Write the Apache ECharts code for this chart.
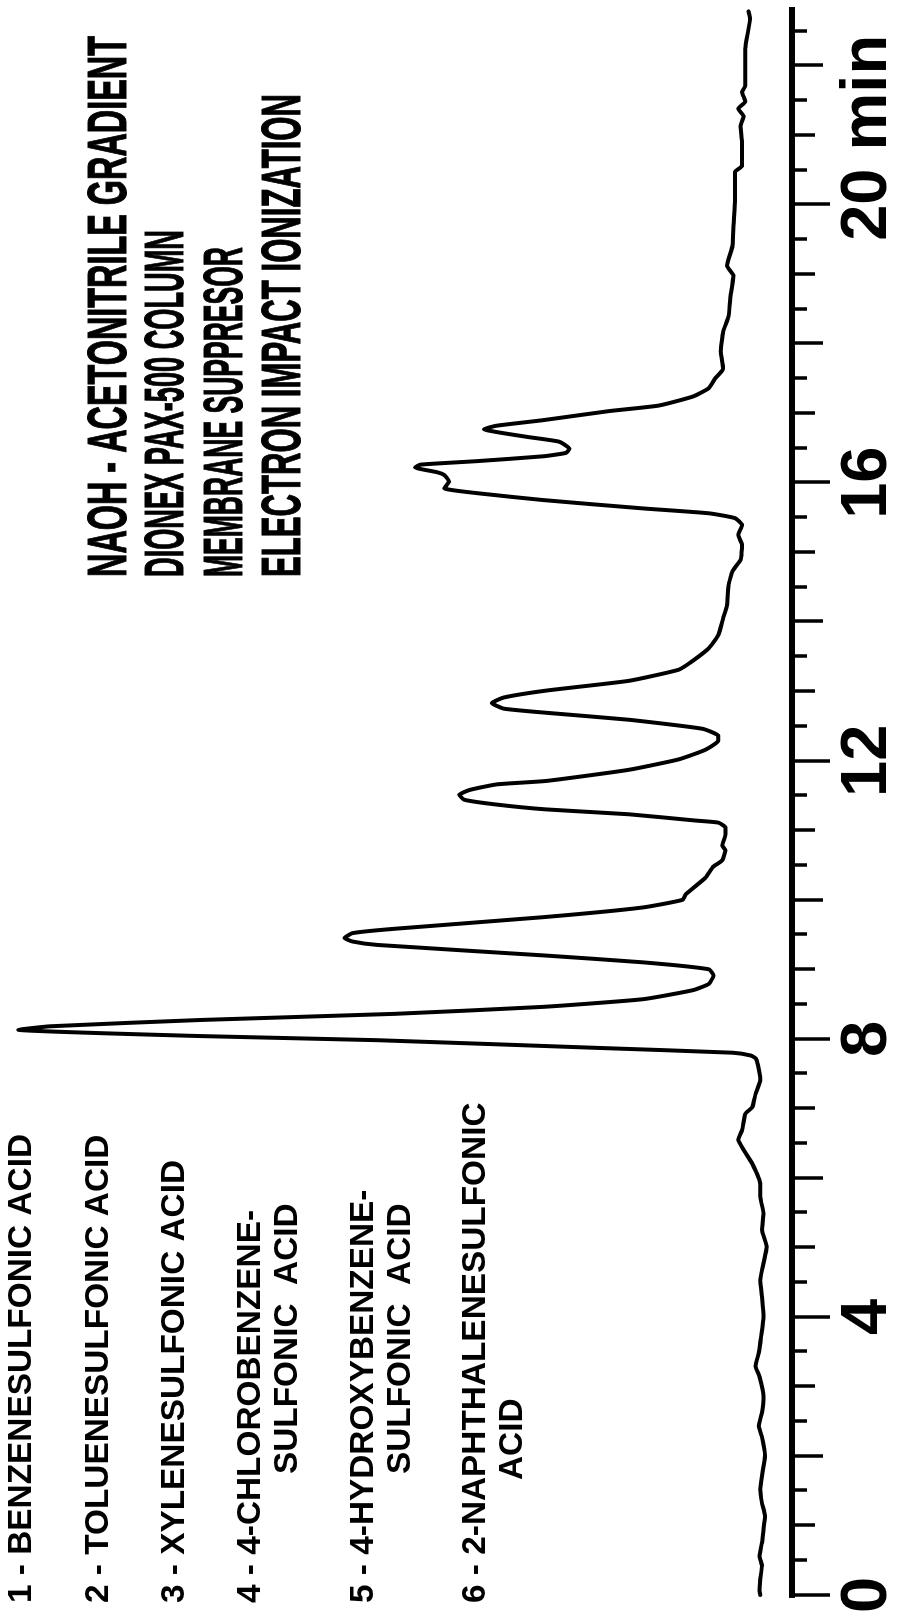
<!DOCTYPE html>
<html>
<head>
<meta charset="utf-8">
<script src="https://cdn.jsdelivr.net/npm/echarts@6/dist/echarts.min.js"></script>
<style>
  html, body { margin: 0; padding: 0; width: 901px; height: 1616px; overflow: hidden; background: #fff; }
  /* The chromatogram is laid out with time running left-to-right and then
     turned a quarter turn counter-clockwise, so time reads bottom-to-top. */
  #chart {
    position: absolute; left: 0; top: 0;
    width: 1616px; height: 901px;
    transform-origin: 0 0;
    transform: translateY(1616px) rotate(-90deg);
    background: #fff;
  }
</style>
</head>
<body>
<div id="chart"></div>
<script>
// ---- data -------------------------------------------------------------
// retention time (min)
const timeMin = [
  0.00, 0.06, 0.23, 0.42, 0.56, 0.75, 0.94, 1.13, 1.33, 1.52, 1.71, 2.00,
  2.28, 2.43, 2.62, 2.86, 3.14, 3.29, 3.48, 3.72, 4.01, 4.29, 4.53, 4.77,
  5.01, 5.25, 5.49, 5.73, 5.91, 6.20, 6.40, 6.55, 6.69, 6.92, 7.02, 7.21,
  7.41, 7.62, 7.72, 7.76,
  7.80, 7.87, 7.98, 8.04, 8.13,
  8.18, 8.27, 8.36, 8.46, 8.57, 8.70, 8.79, 8.91,
  9.00, 9.10, 9.20, 9.35, 9.40, 9.45,
  9.52, 9.58, 9.75, 9.89, 10.00, 10.08, 10.32, 10.47, 10.57, 10.71, 10.78,
  10.94, 11.04, 11.11,
  11.14, 11.23, 11.30, 11.37, 11.44, 11.51,
  11.58, 11.66, 11.71, 11.87, 12.02, 12.16, 12.29, 12.36,
  12.46, 12.59, 12.69, 12.75, 12.83,
  12.91, 13.01, 13.15, 13.31, 13.44, 13.62, 13.81, 14.05, 14.24, 14.53,
  14.73, 14.89, 15.10, 15.25, 15.39, 15.49,
  15.56, 15.63, 15.75, 15.85, 15.92, 16.02, 16.11, 16.15, 16.22,
  16.26, 16.31, 16.38, 16.43, 16.49,
  16.59, 16.66, 16.77,
  16.82, 16.90, 17.03, 17.11, 17.24, 17.36, 17.50, 17.64, 17.89, 18.17,
  18.40, 18.65, 18.98, 19.12, 19.41, 19.70, 20.08, 20.47, 20.56, 20.90,
  21.13, 21.27, 21.38, 21.48, 21.62, 21.71, 22.24, 22.67, 22.78
];
// detector response (relative units)
const signal = [
  4.0, 4.1, 4.0, 3.8, 4.1, 3.8, 3.6, 3.4, 3.8, 4.0, 3.8, 3.4,
  3.8, 4.2, 3.8, 3.6, 4.1, 4.6, 4.2, 3.9, 3.6, 3.8, 4.0, 3.6,
  3.2, 3.8, 3.6, 4.0, 4.0, 5.0, 6.1, 6.8, 6.3, 5.9, 5.0, 4.6,
  4.0, 4.3, 4.6, 5.2,
  7.5, 24.7, 52.3, 74.9, 97.7,
  93.7, 74.9, 50.0, 31.4, 18.8, 12.5, 10.5, 9.9,
  10.5, 18.8, 31.4, 52.3, 55.5, 56.5,
  55.5, 50.5, 31.4, 18.8, 13.8, 13.4, 10.9, 10.0, 8.8, 8.4, 8.8,
  8.4, 8.4, 9.3,
  12.2, 20.6, 31.0, 37.3, 41.4, 42.0,
  40.7, 37.3, 31.0, 20.6, 14.3, 10.9, 9.3, 9.3,
  11.3, 20.6, 31.0, 36.4, 37.9,
  36.4, 31.0, 20.6, 14.3, 12.5, 10.5, 9.3, 8.7, 8.2, 8.0,
  7.5, 6.5, 6.3, 6.8, 6.3, 7.2,
  10.5, 18.8, 31.4, 39.8, 43.9, 43.3, 43.9, 44.8, 47.6,
  46.9, 39.8, 31.4, 28.5, 28.1,
  29.4, 33.5, 38.9,
  37.3, 31.4, 23.1, 16.8, 12.5, 10.5, 9.7, 8.7, 9.0, 8.7,
  8.0, 7.8, 7.4, 8.2, 7.5, 7.4, 7.2, 7.2, 6.3, 6.3,
  6.5, 6.1, 6.8, 5.9, 6.3, 5.9, 5.9, 5.3, 5.5
];

// time-axis ticks (min)
const labelTicks = [0, 4, 8, 12, 16, 20];
const evenTicks  = [2, 6, 10, 14, 18, 22];
const oddTicks   = [1, 3, 5, 7, 9, 11, 13, 15, 17, 19, 21];
const halfTicks  = [0.5, 1.5, 2.5, 3.5, 4.5, 5.5, 6.5, 7.5, 8.5, 9.5, 10.5,
                    11.5, 12.5, 13.5, 14.5, 15.5, 16.5, 17.5, 18.5, 19.5,
                    20.5, 21.5, 22.5];
const timeUnit = 'min';

// run conditions
const conditions = [
  'NAOH - ACETONITRILE GRADIENT',
  'DIONEX PAX-500 COLUMN',
  'MEMBRANE SUPPRESOR',
  'ELECTRON IMPACT IONIZATION'
];
// peak identification
const compounds = [
  ['1 - BENZENESULFONIC ACID'],
  ['2 - TOLUENESULFONIC ACID'],
  ['3 - XYLENESULFONIC ACID'],
  ['4 - 4-CHLOROBENZENE-', 'SULFONIC  ACID'],
  ['5 - 4-HYDROXYBENZENE-', 'SULFONIC  ACID'],
  ['6 - 2-NAPHTHALENESULFONIC', 'ACID']
];

// ---- layout -----------------------------------------------------------
const W = 1616, H = 901;
const T_MAX = 22.8;
const GRID = { left: 17, right: 10, top: 0, bottom: 104 };
const INK = '#000';
const SANS = '"Liberation Sans", Arial, sans-serif';
const NARROW = '"Liberation Sans Narrow", "Liberation Sans", Arial, sans-serif';
const LABEL_SIZE = 65;

const measureCtx = document.createElement('canvas').getContext('2d');
function textWidth(text, font) { measureCtx.font = font; return measureCtx.measureText(text).width; }

// condition block: left edge, row centres, target line lengths
const condLeft = 1039;
const condRows = [111, 168, 227, 285];
const condLens = [541, 347, 330, 483];
const condSize = 56;

// compound list rows: [group, line] -> centre, left edge
const compRows = [[22], [99], [175], [251, 288], [364, 401], [476, 513]];
const compLeft = [[13], [13], [13], [13, 142], [13, 142], [13, 136]];
const compSize = 34;
const compScale = 469 / textWidth(compounds[0][0], 'bold ' + compSize + 'px ' + SANS);

const graphics = [];
conditions.forEach((txt, i) => {
  const s = condLens[i] / textWidth(txt, 'bold ' + condSize + 'px ' + NARROW);
  graphics.push({
    type: 'text', x: condLeft, y: condRows[i], scaleX: s, silent: true,
    style: { text: txt, fill: INK, fontSize: condSize, fontWeight: 'bold',
             fontFamily: NARROW, align: 'left', verticalAlign: 'middle',
             stroke: INK, lineWidth: 1.2 }
  });
});
compounds.forEach((lines, g) => {
  lines.forEach((txt, k) => {
    graphics.push({
      type: 'text', x: compLeft[g][k], y: compRows[g][k], scaleX: compScale, silent: true,
      style: { text: txt, fill: INK, fontSize: compSize, fontWeight: 'bold',
               fontFamily: SANS, align: 'left', verticalAlign: 'middle' }
    });
  });
});

// the unit follows the last labelled tick; pad the front so the number stays centred on its tick
const unitPad = textWidth(' ' + timeUnit, 'bold ' + LABEL_SIZE + 'px ' + SANS);
const lastLabel = labelTicks[labelTicks.length - 1];

function tickAxis(values, len, extra) {
  return Object.assign({
    type: 'value', gridIndex: 0, position: 'bottom', offset: 0,
    min: 0, max: T_MAX,
    axisLine: { show: false },
    axisTick: { show: true, customValues: values, length: len,
                lineStyle: { color: INK, width: 3.5 } },
    axisLabel: { show: false },
    splitLine: { show: false }
  }, extra || {});
}

const chart = echarts.init(document.getElementById('chart'), null, { renderer: 'canvas', width: W, height: H });
chart.setOption({
  animation: false,
  backgroundColor: '#fff',
  grid: Object.assign({ containLabel: false }, GRID),
  xAxis: [
    tickAxis(labelTicks, 38, {
      axisLine: { show: true, lineStyle: { color: INK, width: 6, cap: 'square' } },
      axisLabel: {
        show: true, customValues: labelTicks, margin: 44,
        color: INK, fontSize: LABEL_SIZE, fontWeight: 'bold', fontFamily: SANS,
        formatter: v => v === lastLabel ? '{p|}' + v + ' ' + timeUnit : String(v),
        rich: { p: { width: unitPad } }
      }
    }),
    tickAxis(evenTicks, 31),
    tickAxis(oddTicks, 23),
    tickAxis(halfTicks, 15)
  ],
  yAxis: { type: 'value', min: 0, max: 100, show: false },
  series: [{
    type: 'line',
    xAxisIndex: 0,
    data: timeMin.map((t, i) => [t, signal[i]]),
    showSymbol: false,
    smooth: 0.15,
    lineStyle: { color: INK, width: 4, join: 'round', cap: 'round' },
    clip: false
  }],
  graphic: graphics
});
</script>
</body>
</html>
